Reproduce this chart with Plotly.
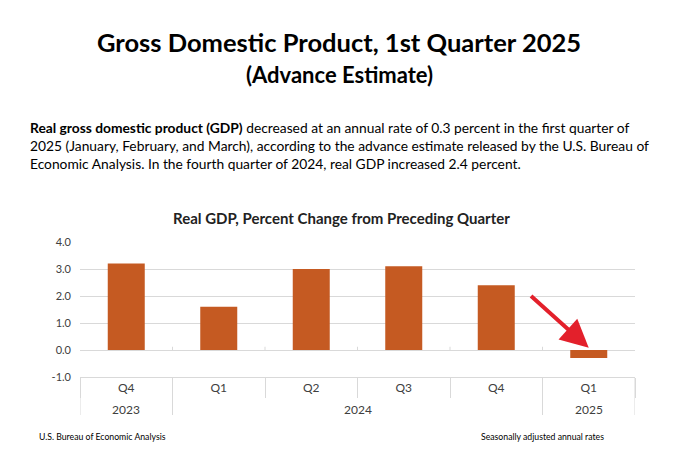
import plotly.graph_objects as go

# Values
quarters = ['Q4', 'Q1', 'Q2', 'Q3', 'Q4', 'Q1']
years = ['2023', '2024', '2024', '2024', '2024', '2025']
gdp_change = [3.2, 1.6, 3.0, 3.1, 2.4, -0.3]
y_ticks = [-1, 0, 1, 2, 3, 4]
y_tick_labels = ['-1.0', '0.0', '1.0', '2.0', '3.0', '4.0']

FONT = 'Lato'
BAR_COLOR = '#C55A22'
GRID = '#D9D9D9'

# page body has an 8px margin, so the figure is drawn 8px in from the corner
OFF = 8
W, H = 678 - OFF, 449 - OFF
L, R, T, B = 80 - OFF, 43, 242 - OFF, 72
plot_h = H - T - B


def py(pix):
    # reference pixel row -> paper y
    return (H - B - (pix - OFF)) / plot_h


def px(pix):
    return (pix - OFF - L) / (W - L - R)


pos = list(range(len(quarters)))

fig = go.Figure()
fig.add_trace(go.Bar(
    x=pos, y=gdp_change, width=0.4,
    marker=dict(color=BAR_COLOR, line=dict(width=0)),
    hoverinfo='skip', showlegend=False
))

# category boundaries
bounds = [p - 0.5 for p in pos] + [pos[-1] + 0.5]
year_bounds = [bounds[0]] + [pos[i] - 0.5 for i in range(1, len(years)) if years[i] != years[i - 1]] + [bounds[-1]]

shapes = []
# long dividers between years
for b in year_bounds:
    shapes.append(dict(type='line', xref='x', yref='paper', x0=b, x1=b,
                       y0=0, y1=py(415), line=dict(color=GRID, width=1)))
# small ticks on the zero line
for b in bounds[1:-1]:
    shapes.append(dict(type='line', xref='x', yref='y', x0=b, x1=b,
                       y0=0, y1=0.12, line=dict(color=GRID, width=1)))

annotations = []
# year group labels
groups = []
for i, yr in enumerate(years):
    if groups and groups[-1][0] == yr:
        groups[-1][1].append(pos[i])
    else:
        groups.append([yr, [pos[i]]])
for yr, ps in groups:
    annotations.append(dict(x=sum(ps) / len(ps), y=py(409), xref='x', yref='paper',
                            text=yr, showarrow=False, yanchor='middle',
                            font=dict(family=FONT, size=12, color='#404040')))

# arrow pointing to the latest quarter
annotations.append(dict(x=pos[-1], y=0.08, xref='x', yref='y',
                        ax=pos[-2] + 0.36, ay=2.05, axref='x', ayref='y',
                        showarrow=True, arrowhead=2, arrowsize=1.4, arrowwidth=4,
                        arrowcolor='#E3202B', text=''))

# titles and text
annotations += [
    dict(x=px(339), y=py(42), xref='paper', yref='paper', showarrow=False,
         text='<b>Gross Domestic Product, 1st Quarter 2025</b>', yanchor='middle',
         font=dict(family=FONT, size=25.5, color='#000000')),
    dict(x=px(339), y=py(74), xref='paper', yref='paper', showarrow=False,
         text='<b>(Advance Estimate)</b>', yanchor='middle',
         font=dict(family=FONT, size=22, color='#000000')),
    dict(x=px(28), y=py(145), xref='paper', yref='paper', showarrow=False,
         xanchor='left', yanchor='middle', align='left',
         text=('<b>Real gross domestic product (GDP)</b> decreased at an annual rate of 0.3 percent in the first quarter of<br>'
               '2025 (January, February, and March), according to the advance estimate released by the U.S. Bureau of<br>'
               'Economic Analysis. In the fourth quarter of 2024, real GDP increased 2.4 percent.'),
         font=dict(family=FONT, size=13.8, color='#000000')),
    dict(x=px(341), y=py(218), xref='paper', yref='paper', showarrow=False,
         text='<b>Real GDP, Percent Change from Preceding Quarter</b>', yanchor='middle',
         font=dict(family=FONT, size=15, color='#222222')),
    dict(x=px(37), y=py(436), xref='paper', yref='paper', showarrow=False,
         xanchor='left', yanchor='middle', text='U.S. Bureau of Economic Analysis',
         font=dict(family=FONT, size=8.7, color='#000000')),
    dict(x=px(606), y=py(436), xref='paper', yref='paper', showarrow=False,
         xanchor='right', yanchor='middle', text='Seasonally adjusted annual rates',
         font=dict(family=FONT, size=8.7, color='#000000')),
]

fig.update_layout(
    width=W, height=H,
    margin=dict(l=L, r=R, t=T, b=B),
    paper_bgcolor='white', plot_bgcolor='white',
    shapes=shapes, annotations=annotations,
)
fig.update_xaxes(
    range=[bounds[0], bounds[-1]], tickvals=pos, ticktext=quarters,
    ticks='', showgrid=False, zeroline=False,
    showline=True, linecolor=GRID, linewidth=1,
    tickfont=dict(family=FONT, size=12, color='#404040'),
    minor=dict(tickvals=bounds, ticks='outside', ticklen=20, tickcolor=GRID, tickwidth=1, showgrid=False),
    fixedrange=True,
)
fig.update_yaxes(
    range=[y_ticks[0], y_ticks[-1]], tickvals=y_ticks, ticktext=y_tick_labels,
    showgrid=True, gridcolor=GRID, gridwidth=1,
    zeroline=True, zerolinecolor=GRID, zerolinewidth=1,
    showline=False, ticks='', ticklabelstandoff=8,
    tickfont=dict(family=FONT, size=11, color='#404040'),
    fixedrange=True,
)

fig.write_html('out.html')
